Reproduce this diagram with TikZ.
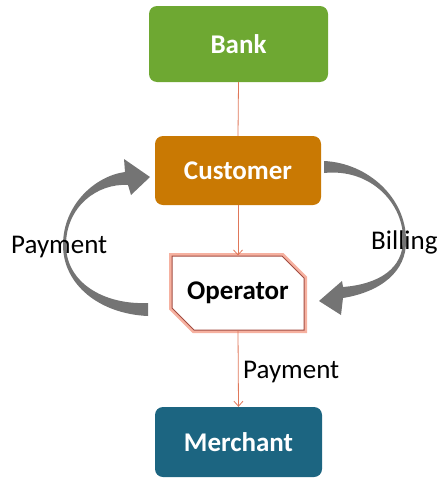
\documentclass[tikz,border=0pt]{standalone}
\usepackage{fontspec}
\setmainfont{Carlito}
\usetikzlibrary{arrows.meta,shapes.misc}
\definecolor{bankgreen}{HTML}{6EA832}
\definecolor{custorange}{HTML}{C97903}
\definecolor{merchteal}{HTML}{1C6581}
\definecolor{opline}{HTML}{A34B40}
\definecolor{opglow}{HTML}{F6B1A0}
\definecolor{conn}{HTML}{E0785A}
\definecolor{arcgray}{HTML}{747474}
\tikzset{
  box/.style={rectangle, rounded corners=8pt, text=white, inner sep=0pt,
    font=\fontsize{27}{30}\selectfont\bfseries},
  opbox/.style={chamfered rectangle, chamfered rectangle corners={north east,south west},
    chamfered rectangle xsep=11pt, chamfered rectangle ysep=11pt,
    minimum width=132pt, minimum height=74pt, inner sep=0pt,
    fill=white, draw=opline, line width=1pt,
    preaction={draw=opglow, line width=6pt},
    font=\fontsize{27}{30}\selectfont\bfseries},
  lbl/.style={inner sep=0pt, anchor=base west, font=\fontsize{27}{30}\selectfont},
  link/.style={draw=conn, line width=0.8pt},
  linkarrow/.style={link, -{Straight Barb[length=5pt,width=9pt]}},
  bigarc/.style={fill=arcgray, draw=none}
}
\begin{document}
\begin{tikzpicture}[x=1pt,y=-1pt]
\useasboundingbox (0,0) rectangle (444,479);
% nodes
\node[box, fill=bankgreen, minimum width=179pt, minimum height=76pt] (bank) at (238.5,44) {Bank};
\node[box, fill=custorange, minimum width=166pt, minimum height=69pt] (cust) at (238,170.5) {Customer};
\node[opbox] (op) at (238,293) {Operator};
\node[box, fill=merchteal, minimum width=167pt, minimum height=70pt] (merch) at (238.5,442) {Merchant};
% connectors
\draw[link] (bank.south) -- (cust.north);
\draw[linkarrow] (cust.south) -- (op.north);
\draw[linkarrow] (op.south) -- (merch.north);
% left curved arrow (Payment)
\fill[bigarc] (148,316) .. controls (100,314) and (63,285) .. (63,245)
  .. controls (63,205) and (95,176) .. (125,172) -- (124,159) -- (150,177) -- (131,195) -- (128,185)
  .. controls (97,183) and (66,207) .. (66,245)
  .. controls (66,282) and (103,305) .. (148,303) -- cycle;
% right curved arrow (Billing)
\fill[bigarc] (324,161) .. controls (368,163) and (406,198) .. (406,240)
  .. controls (407,272) and (380,292) .. (343,298) -- (341,315) -- (319,301) -- (342,281) -- (343,287)
  .. controls (380,284) and (403,268) .. (403,240)
  .. controls (404,205) and (372,168) .. (324,173) -- cycle;
% labels
\node[lbl] (lpay) at (11,253) {Payment};
\node[lbl] (bill) at (371,249) {Billing};
\node[lbl] (rpay) at (243,378) {Payment};
\end{tikzpicture}
\end{document}
